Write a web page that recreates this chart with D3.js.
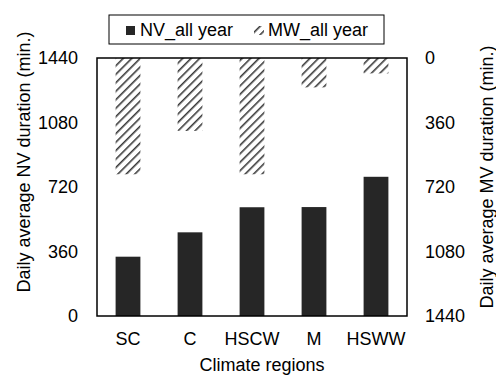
<!DOCTYPE html>
<html>
<head>
<meta charset="utf-8">
<script src="https://cdn.jsdelivr.net/npm/d3@7"></script>
<style>
  body { margin: 0; background: #fff; }
  text { font-family: Arial, "Liberation Sans", sans-serif; fill: #000; }
</style>
</head>
<body>
<svg id="root" width="496" height="376"></svg>
<script>
const regions = ['SC', 'C', 'HSCW', 'M', 'HSWW'];
const nvValues = [331, 467, 607, 608, 777];
const mwValues = [649, 407, 649, 164, 86];
const leftTicks = [0, 360, 720, 1080, 1440];
const rightTicks = [0, 360, 720, 1080, 1440];

const margin = { top: 58, left: 97, right: 89, bottom: 60 };
const width = 496 - margin.left - margin.right;
const height = 376 - margin.top - margin.bottom;
const fontSize = 18;

const svg = d3.select('#root');

// hatch pattern for MW bars
const defs = svg.append('defs');
const pat = defs.append('pattern')
    .attr('id', 'hatch')
    .attr('patternUnits', 'userSpaceOnUse')
    .attr('width', 6).attr('height', 6)
    .attr('patternTransform', 'rotate(45)');
pat.append('rect').attr('width', 6).attr('height', 6).attr('fill', '#fff');
pat.append('line')
    .attr('x1', 0).attr('y1', 0).attr('x2', 0).attr('y2', 6)
    .attr('stroke', '#3a3a3a').attr('stroke-width', 3.2);

const x = d3.scaleBand().domain(regions).range([0, width]).paddingInner(0.6).paddingOuter(0.3);
const yL = d3.scaleLinear().domain([0, 1440]).range([height, 0]);
const yR = d3.scaleLinear().domain([0, 1440]).range([0, height]); // reversed, 0 on top

const g = svg.append('g').attr('transform', `translate(${margin.left},${margin.top})`);

// NV bars from bottom
g.selectAll('.nv').data(nvValues).enter().append('rect')
    .attr('class', 'nv')
    .attr('x', (d, i) => x(regions[i]))
    .attr('y', d => yL(d))
    .attr('width', x.bandwidth())
    .attr('height', d => height - yL(d))
    .attr('fill', '#262626');

// MW bars hanging from top
g.selectAll('.mw').data(mwValues).enter().append('rect')
    .attr('class', 'mw')
    .attr('x', (d, i) => x(regions[i]))
    .attr('y', 0)
    .attr('width', x.bandwidth())
    .attr('height', d => yR(d))
    .attr('fill', 'url(#hatch)');

// frame
g.append('rect')
    .attr('width', width).attr('height', height)
    .attr('fill', 'none').attr('stroke', '#000').attr('stroke-width', 1.5);

// axes, no tick marks
const fmt = d3.format('d');
const axisL = d3.axisLeft(yL).tickValues(leftTicks).tickFormat(fmt).tickSize(0).tickPadding(19);
const axisR = d3.axisRight(yR).tickValues(rightTicks).tickFormat(fmt).tickSize(0).tickPadding(18);
const axisB = d3.axisBottom(x).tickSize(0).tickPadding(16);

const gl = g.append('g').call(axisL);
const gr = g.append('g').attr('transform', `translate(${width},0)`).call(axisR);
const gb = g.append('g').attr('transform', `translate(0,${height})`).call(axisB);
[gl, gr, gb].forEach(a => {
    a.select('.domain').remove();
    a.selectAll('text').style('font-size', fontSize + 'px').attr('fill', '#000');
});

// axis titles
svg.append('text')
    .attr('transform', `translate(30,162) rotate(-90)`)
    .attr('text-anchor', 'middle')
    .style('font-size', fontSize + 'px')
    .text('Daily average NV duration (min.)');
svg.append('text')
    .attr('transform', `translate(493,177) rotate(-90)`)
    .attr('text-anchor', 'middle')
    .style('font-size', fontSize + 'px')
    .text('Daily average MV duration (min.)');
svg.append('text')
    .attr('x', 262).attr('y', 371)
    .attr('text-anchor', 'middle')
    .style('font-size', fontSize + 'px')
    .text('Climate regions');

// legend
const lg = svg.append('g').attr('transform', 'translate(109,15)');
lg.append('rect').attr('width', 275).attr('height', 29)
    .attr('fill', '#fff').attr('stroke', '#000').attr('stroke-width', 1);
lg.append('rect').attr('x', 17).attr('y', 11).attr('width', 9).attr('height', 9).attr('fill', '#262626');
lg.append('text').attr('x', 31).attr('y', 21).style('font-size', fontSize + 'px').text('NV_all year');
lg.append('rect').attr('x', 145).attr('y', 11).attr('width', 10).attr('height', 9).attr('fill', 'url(#hatch)');
lg.append('text').attr('x', 159).attr('y', 21).style('font-size', fontSize + 'px').text('MW_all year');
</script>
</body>
</html>
